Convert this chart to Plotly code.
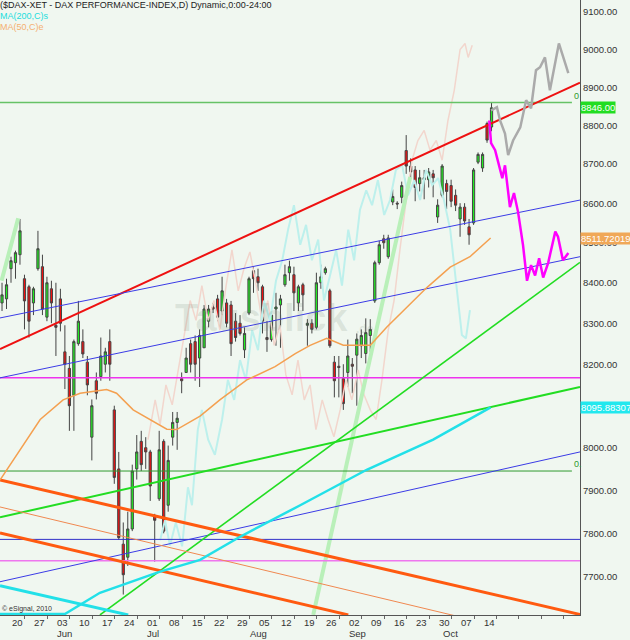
import numpy as np
import plotly.graph_objects as go

# ---------------- data (trading-day index: 0 = Mon 20 May 2013) ----------------
day = list(range(-2, 108))
opens = [8350, 8360, 8435, 8450, 8470, 8410, 8390, 8350, 8435, 8440, 8315, 8385, 8295, 8360, 8230, 8190, 8125, 8250, 8255, 8205,
         8025, 8160, 8170, 8200, 8255, 8090, 7950, 7775, 7745, 7810, 7950, 8015, 8000, 7990, 7840, 7880, 8015, 7865, 8025, 8060,
         8165, 8180, 8250, 8255, 8215, 8240, 8305, 8340, 8360, 8330, 8350, 8345, 8305, 8300, 8235, 8325, 8430, 8415, 8390, 8265,
         8260, 8335, 8345, 8395, 8425, 8420, 8350, 8395, 8295, 8300, 8290, 8400, 8425, 8380, 8205, 8195, 8165, 8180, 8200, 8222,
         8245, 8226, 8270, 8355, 8450, 8510, 8465, 8603, 8600, 8615, 8735, 8695, 8685, 8650, 8660, 8660, 8675, 8565, 8620, 8650,
         8645, 8620, 8560, 8590, 8540, 8550, 8705, 8690, 8805, 8796]
highs = [8400, 8410, 8465, 8480, 8560, 8420, 8395, 8390, 8530, 8470, 8415, 8405, 8400, 8385, 8295, 8220, 8260, 8355, 8285, 8220,
         8115, 8180, 8265, 8240, 8285, 8100, 7990, 7825, 7850, 7960, 8030, 8040, 8025, 7995, 7845, 8040, 8020, 8005, 8085, 8085,
         8180, 8240, 8260, 8270, 8285, 8345, 8345, 8350, 8370, 8415, 8360, 8355, 8325, 8320, 8290, 8415, 8440, 8435, 8395, 8305,
         8330, 8375, 8370, 8445, 8455, 8440, 8395, 8400, 8310, 8310, 8425, 8445, 8440, 8385, 8220, 8220, 8200, 8260, 8215, 8275,
         8285, 8312, 8310, 8455, 8505, 8520, 8520, 8635, 8605, 8655, 8775, 8715, 8695, 8685, 8685, 8690, 8685, 8610, 8700, 8660,
         8660, 8635, 8600, 8600, 8560, 8690, 8730, 8730, 8810, 8860]
lows = [8330, 8335, 8400, 8410, 8445, 8285, 8265, 8320, 8430, 8320, 8305, 8300, 8220, 8280, 8140, 8040, 8040, 8245, 8215, 8125,
        7970, 8115, 8160, 8180, 8160, 7915, 7785, 7660, 7725, 7805, 7925, 7945, 7950, 7875, 7735, 7875, 7800, 7850, 8005, 7995,
        8130, 8180, 8180, 8160, 8145, 8240, 8290, 8325, 8305, 8320, 8290, 8220, 8255, 8270, 8215, 8320, 8375, 8380, 8275, 8230,
        8255, 8245, 8240, 8390, 8405, 8330, 8330, 8330, 8245, 8275, 8285, 8385, 8420, 8240, 8120, 8120, 8090, 8145, 8130, 8100,
        8215, 8202, 8230, 8350, 8445, 8485, 8460, 8595, 8585, 8600, 8675, 8665, 8605, 8630, 8610, 8640, 8615, 8550, 8615, 8585,
        8590, 8580, 8515, 8545, 8495, 8545, 8700, 8680, 8755, 8785]
closes = [8370, 8395, 8455, 8475, 8530, 8355, 8305, 8385, 8485, 8335, 8400, 8350, 8290, 8300, 8200, 8100, 8255, 8305, 8225, 8150,
          8100, 8130, 8220, 8230, 8200, 7930, 7790, 7705, 7810, 7945, 7990, 7960, 7990, 7910, 7830, 7995, 7805, 7970, 8060, 8070,
          8160, 8215, 8200, 8200, 8270, 8335, 8335, 8335, 8315, 8380, 8300, 8250, 8265, 8275, 8275, 8410, 8410, 8400, 8305, 8260,
          8320, 8340, 8360, 8420, 8440, 8375, 8390, 8370, 8300, 8285, 8400, 8415, 8435, 8245, 8160, 8192, 8105, 8220, 8195, 8261,
          8270, 8277, 8285, 8450, 8495, 8500, 8512, 8617, 8598, 8645, 8695, 8680, 8640, 8665, 8665, 8680, 8665, 8595, 8695, 8630,
          8605, 8595, 8590, 8555, 8520, 8685, 8725, 8725, 8762, 8846]

week_pos = list(range(0, 106, 5))
week_labels = ["20", "27", "03", "10", "17", "24", "01", "08", "15", "22", "29",
               "05", "12", "19", "26", "02", "09", "16", "23", "30", "07", "14"]
month_pos = [10, 30, 53, 75, 96]
month_labels = ["Jun", "Jul", "Aug", "Sep", "Oct"]
price_ticks = [7700, 7800, 7900, 8000, 8100, 8200, 8300, 8400, 8500, 8600, 8700, 8800, 8900, 9000, 9100]

# moving averages
ma200_x = [-2.45, 12, 19.8, 33.2, 42.1, 51, 64.4, 79.2, 94, 106.8]
ma200_y = [7616, 7616, 7664, 7712, 7739, 7792, 7865, 7948, 8019, 8096]
ma50_x = [-2.45, 6.5, 11.6, 15.4, 21.3, 23.5, 27.2, 31, 34.7, 36.9, 42.1, 46.5, 52.5, 58.8, 63.3, 66.6, 70.3, 74, 80,
          83.7, 88.1, 92.6, 97.8, 102.2, 106.8]
ma50_y = [7924, 8067, 8114, 8130, 8139, 8130, 8090, 8067, 8044, 8043, 8075, 8114, 8162, 8194, 8226, 8246, 8263, 8246, 8246,
          8291, 8340, 8388, 8439, 8465, 8512]

# faint overlay patterns
pink_x = [30.5, 32.1, 33.2, 34.5, 35.9, 37.2, 38.8, 39.9, 41.2, 42.5, 43.9, 45.2, 46.5, 47.9, 49.2, 50.6, 51.9, 53.2, 54.6,
          55.9, 57.2, 58.6, 59.9, 61.2, 62.6, 63.9, 65.3, 66.6, 67.9, 69.3, 70.6, 71.9, 73.3, 74.6, 75.9, 77.3, 78.6, 80.0,
          81.3, 82.6, 84.0, 85.3, 86.6, 88.0, 89.3, 90.6, 92.0, 93.3, 94.7, 96.0, 97.3, 98.7, 100.0, 101.1, 101.8, 102.7]
pink_y = [8019, 8114, 8055, 8150, 8102, 8181, 8283, 8356, 8307, 8393, 8307, 8356, 8283, 8393, 8482, 8380, 8436, 8477, 8393,
          8307, 8356, 8246, 8295, 8174, 8126, 8210, 8114, 8150, 8043, 8114, 8067, 8026, 8090, 8162, 8114, 8186, 8126, 8090,
          8067, 8162, 8283, 8356, 8482, 8608, 8710, 8761, 8787, 8736, 8761, 8710, 8813, 8892, 9000, 9016, 8979, 9011]
cyan_x = [33.2, 34.3, 35.4, 36.7, 38.1, 39.4, 40.3, 41.6, 42.5, 43.9, 45.4, 47.0, 48.3, 49.7, 51.0, 52.3, 53.7, 55.0, 56.3,
          57.7, 59.0, 60.4, 61.7, 63.0, 64.4, 65.7, 67.0, 68.4, 69.7, 71.0, 72.4, 73.7, 75.1, 76.4, 77.7, 79.1, 80.4, 81.7,
          83.1, 84.4, 85.7, 87.1, 88.4, 89.8, 91.1, 92.4, 93.8, 95.1, 96.4, 97.8, 99.1, 100.4, 101.3, 102.2]
cyan_y = [7784, 7830, 7772, 7825, 7770, 7907, 7865, 8043, 8090, 8019, 7983, 8067, 8162, 8114, 8210, 8162, 8283, 8234, 8356,
          8307, 8405, 8456, 8533, 8595, 8495, 8545, 8456, 8508, 8356, 8418, 8482, 8393, 8533, 8456, 8583, 8633, 8595, 8659,
          8570, 8608, 8685, 8697, 8620, 8659, 8608, 8685, 8646, 8664, 8608, 8533, 8405, 8271, 8263, 8332]

# projections
gray_x = [106.9, 108.2, 108.9, 110.0, 110.7, 111.8, 113.4, 114.7, 115.8, 116.9, 117.8, 118.9, 120.0, 122.0, 124.1]
gray_y = [8839, 8848, 8813, 8779, 8723, 8761, 8795, 8866, 8845, 8945, 8953, 8979, 8892, 9016, 8937]
mag_x = [106.5, 106.9, 107.8, 108.5, 109.4, 110.0, 111.1, 112.0, 112.9, 114.0, 114.9, 115.8, 116.7, 117.6, 118.5, 119.6,
         121.2, 121.8, 122.9, 124.1]
mag_y = [8813, 8754, 8736, 8703, 8664, 8697, 8590, 8626, 8578, 8495, 8405, 8444, 8418, 8461, 8413, 8449, 8528, 8515, 8456, 8474]

# trend lines: (start day, end day), (start price, end price)
trend_lines = {
    "red":        ([-2.45, 126.7], [8237, 8912]),
    "blue_up":    ([-2.45, 126.7], [8313, 8608]),
    "blue_mid":   ([-2.45, 126.7], [8167, 8465]),
    "blue_low":   ([-2.45, 126.7], [7689, 7990]),
    "green_steep": ([19.8, 126.7], [7614, 8451]),
    "green_mid":  ([-2.45, 126.7], [7837, 8145]),
    "orange_a":   ([-2.45, 126.7], [7924, 7615]),
    "orange_b":   ([-2.45, 75.1], [7801, 7614]),
    "orange_thin": ([-2.45, 98.9], [7861, 7612]),
    "cyan_down":  ([-2.45, 26.1], [7680, 7614]),
    "lg_steep":   ([67.3, 88.9], [7614, 8667]),
    "lg_top":     ([-2.1, 1.6], [8405, 8562]),
}
hlines = {  # price, start day, end day
    "fib_top": (8860, -2.45, 124.9),
    "magenta": (8167, -2.45, 126.7),
    "fib_low": (7945, -2.45, 124.9),
    "blue_h":  (7786, -2.45, 126.7),
    "pink_h":  (7737, -2.45, 126.7),
}
last_price = 8846.00
ma50_last = 8511.72019
ma200_last = 8095.88307

# ---------------- figure ----------------
BG = "#f0f7f0"
FONT = "Liberation Sans, Arial, sans-serif"
fig = go.Figure()


def add_line(xs, ys, color, width):
    fig.add_trace(go.Scatter(x=xs, y=ys, mode="lines", line=dict(color=color, width=width),
                             hoverinfo="skip", showlegend=False))


add_line(pink_x, pink_y, "#f2d6cd", 1.5)
add_line(cyan_x, cyan_y, "#bdf0ec", 2)
add_line(*trend_lines["lg_steep"], "#b9f0b9", 4)
add_line(*trend_lines["lg_top"], "#b9f0b9", 4)

hl_style = {"fib_top": ("#66c266", 1.5), "magenta": ("#ee33ee", 1.5), "fib_low": ("#2f9a2f", 1),
            "blue_h": ("#3030c8", 1), "pink_h": ("#ee77ee", 1.5)}
for k, (p, a, b) in hlines.items():
    c, w = hl_style[k]
    add_line([a, b], [p, p], c, w)

tl_style = {"red": ("#ee1111", 2), "blue_up": ("#3b3be6", 1), "blue_mid": ("#3b3be6", 1),
            "blue_low": ("#3b3be6", 1), "green_steep": ("#22dd22", 1.6), "green_mid": ("#22dd22", 2),
            "orange_a": ("#ff5a10", 3), "orange_b": ("#ff5a10", 3), "orange_thin": ("#f08850", 1),
            "cyan_down": ("#22e0e8", 3)}
for k, (c, w) in tl_style.items():
    add_line(*trend_lines[k], c, w)

add_line(ma200_x, ma200_y, "#22e0e8", 2.5)
add_line(ma50_x, ma50_y, "#f4a050", 1.5)

fig.add_trace(go.Candlestick(
    x=day, open=opens, high=highs, low=lows, close=closes,
    increasing=dict(line=dict(color="#444444", width=1), fillcolor="#22ee22"),
    decreasing=dict(line=dict(color="#444444", width=1), fillcolor="#ee1111"),
    whiskerwidth=0, hoverinfo="skip", showlegend=False))

add_line(gray_x, gray_y, "#aaaaaa", 2.5)
add_line(mag_x, mag_y, "#ff00ff", 2.5)

ann = []
for pos, lab in zip(week_pos, week_labels):
    ann.append(dict(x=pos, xref="x", y=-0.0115, yref="paper", text=lab, showarrow=False,
                    xanchor="left", yanchor="middle", xshift=-1, font=dict(size=9.5, color="#333333")))
for pos, lab in zip(month_pos, month_labels):
    ann.append(dict(x=pos, xref="x", y=-0.0295, yref="paper", text=lab, showarrow=False,
                    xanchor="left", yanchor="middle", xshift=-1, font=dict(size=9.5, color="#333333")))

for val, bg, txt in [(last_price, "#22dd22", f"{last_price:.2f}"),
                     (ma50_last, "#f0a858", f"{ma50_last:.5f}"),
                     (ma200_last, "#22e8ee", f"{ma200_last:.5f}")]:
    ann.append(dict(x=1, xref="paper", y=np.log10(val), yref="y", text=txt, showarrow=False,
                    xanchor="left", yanchor="middle", xshift=0, bgcolor=bg, borderpad=0,
                    font=dict(size=9.5, color="white")))

ann.append(dict(x=124.9, xref="x", y=np.log10(hlines["fib_top"][0]), yref="y", text="0", showarrow=False,
                xanchor="left", yanchor="bottom", font=dict(size=9, color="#2f9a2f")))
ann.append(dict(x=124.9, xref="x", y=np.log10(hlines["fib_low"][0]), yref="y", text="0.", showarrow=False,
                xanchor="left", yanchor="bottom", font=dict(size=9, color="#2f9a2f")))

ann.append(dict(x=0, xref="paper", y=1 - 5 / 615, yref="paper", showarrow=False, xanchor="left", yanchor="middle",
                text="($DAX-XET - DAX PERFORMANCE-INDEX,D) Dynamic,0:00-24:00", xshift=-2,
                font=dict(size=9, color="#222222")))
ann.append(dict(x=0, xref="paper", y=1 - 16 / 615, yref="paper", showarrow=False, xanchor="left", yanchor="middle",
                text="MA(200,C)s", xshift=-2, font=dict(size=9, color="#22dddd")))
ann.append(dict(x=0, xref="paper", y=1 - 27 / 615, yref="paper", showarrow=False, xanchor="left", yanchor="middle",
                text="MA(50,C)e", xshift=-2, font=dict(size=9, color="#f4b070")))
ann.append(dict(x=0, xref="paper", y=6 / 615, yref="paper", showarrow=False, xanchor="left", yanchor="middle",
                text="© eSignal, 2010", font=dict(size=7, color="#333333")))
ann.append(dict(x=0.45, xref="paper", y=0.483, yref="paper", showarrow=False, xanchor="center", yanchor="middle",
                text="<b>Tausblick</b>", font=dict(size=38, color="rgba(110,130,110,0.16)")))
ann.append(dict(x=0.63, xref="paper", y=0.465, yref="paper", showarrow=False, xanchor="center", yanchor="middle",
                text="<b>.de</b>", font=dict(size=12, color="rgba(110,130,110,0.16)")))

fig.update_layout(
    width=630, height=640,
    margin=dict(l=0, r=50, t=0, b=25, autoexpand=False),
    paper_bgcolor=BG, plot_bgcolor=BG,
    font=dict(family=FONT, size=9.5, color="#333333"),
    showlegend=False,
    annotations=ann,
    xaxis=dict(range=[-2.45, 126.7], showgrid=False, zeroline=False, showline=True, linecolor="#555555",
               linewidth=1, ticks="outside", ticklen=3, tickcolor="#666666",
               tickvals=[3.1 + 5 * n for n in range(25)], showticklabels=False,
               rangeslider=dict(visible=False), fixedrange=True),
    yaxis=dict(type="log", side="right", range=[3.8816, 3.9606], showgrid=False, zeroline=False,
               showline=True, linecolor="#555555", linewidth=1, ticks="",
               tickvals=price_ticks, ticktext=[f"{v:.2f}" for v in price_ticks],
               tickfont=dict(size=9.5, color="#333333"), fixedrange=True),
)

fig.write_html("out.html", config={"displayModeBar": False},
               post_script="document.body.style.margin='0';document.body.style.padding='0';"
                           "document.body.style.overflow='hidden';document.body.style.background='" + BG + "';")
